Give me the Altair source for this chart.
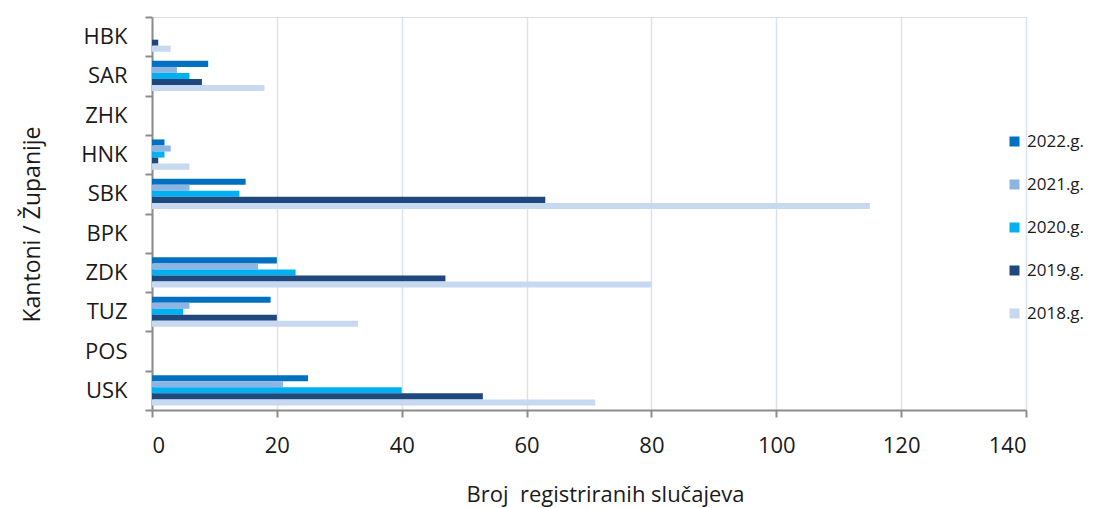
import altair as alt
import pandas as pd

cantons = ["HBK", "SAR", "ZHK", "HNK", "SBK", "BPK", "ZDK", "TUZ", "POS", "USK"]
years = ["2022.g.", "2021.g.", "2020.g.", "2019.g.", "2018.g."]
colors = ["#0070C0", "#8EB4E3", "#00B0F0", "#1F497D", "#C6D9F1"]

v2022 = [0, 9, 0, 2, 15, 0, 20, 19, 0, 25]
v2021 = [0, 4, 0, 3, 6, 0, 17, 6, 0, 21]
v2020 = [0, 6, 0, 2, 14, 0, 23, 5, 0, 40]
v2019 = [1, 8, 0, 1, 63, 0, 47, 20, 0, 53]
v2018 = [3, 18, 0, 6, 115, 0, 80, 33, 0, 71]

series = [v2022, v2021, v2020, v2019, v2018]
rows = []
for yr, vals in zip(years, series):
    for c, v in zip(cantons, vals):
        rows.append({"kanton": c, "godina": yr, "broj": v})
df = pd.DataFrame(rows)

FONT = "Open Sans"
GRID = "#D9E2F0"
AXIS = "#8C8C8C"
TXT = "#1a1a1a"

chart = alt.Chart(df).mark_bar().encode(
    x=alt.X("broj:Q",
            scale=alt.Scale(domain=[0, 140], nice=False),
            axis=alt.Axis(values=[0, 20, 40, 60, 80, 100, 120, 140],
                          title="Broj \u00a0registriranih slučajeva",
                          titleX=453,
                          grid=True, gridColor=GRID, gridWidth=1.5,
                          domainColor=AXIS, domainWidth=2,
                          tickColor=AXIS, tickWidth=2, tickSize=7,
                          labelPadding=18, titlePadding=28,
                          labelFontSize=22, titleFontSize=22,
                          labelColor=TXT, titleColor=TXT,
                          labelFont=FONT, titleFont=FONT, titleFontWeight="normal")),
    y=alt.Y("kanton:N", sort=cantons,
            scale=alt.Scale(paddingInner=0, paddingOuter=0),
            axis=alt.Axis(title="Kantoni / Županije",
                          titleY=207,
                          tickBand="extent",
                          domainColor=AXIS, domainWidth=2,
                          tickColor=AXIS, tickWidth=2, tickSize=7,
                          labelPadding=18, titlePadding=36,
                          labelFontSize=22, titleFontSize=23,
                          labelColor=TXT, titleColor=TXT,
                          labelFont=FONT, titleFont=FONT, titleFontWeight="normal",
                          grid=False)),
    yOffset=alt.YOffset("godina:N", sort=years,
                        scale=alt.Scale(paddingInner=0, paddingOuter=0.75)),
    color=alt.Color("godina:N", sort=years,
                    scale=alt.Scale(domain=years, range=colors),
                    legend=alt.Legend(title=None, orient="none",
                                      legendX=854, legendY=116,
                                      symbolType="square", symbolSize=100,
                                      symbolStrokeWidth=0,
                                      labelFontSize=17, labelFont=FONT,
                                      labelColor=TXT,
                                      rowPadding=25, labelOffset=4)),
).properties(
    width=874, height=393,
    padding={"left": 13, "top": -2, "right": 0, "bottom": 5},
).configure_view(stroke=None).configure(background="white")

chart.save("out.html", embed_options={"renderer": "svg", "actions": False})
